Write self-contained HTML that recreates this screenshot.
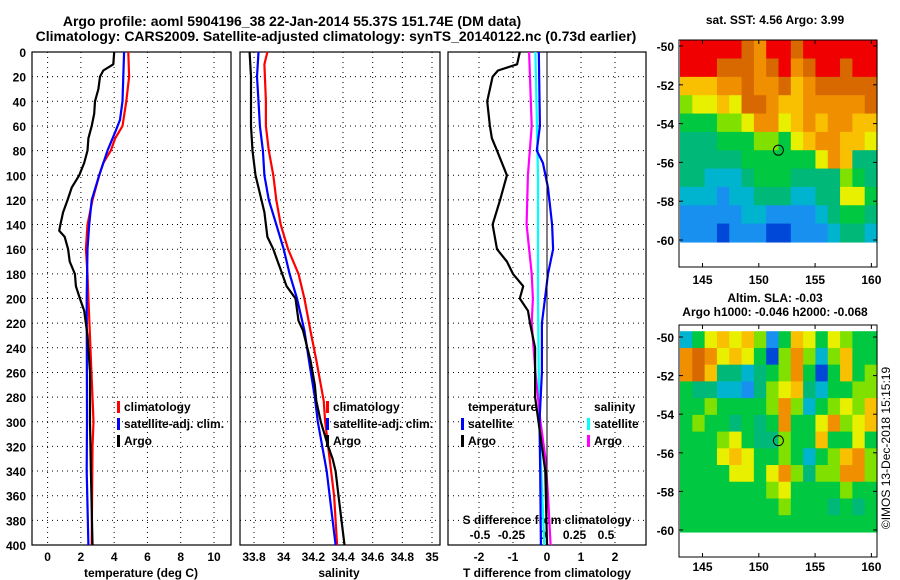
<!DOCTYPE html>
<html><head><meta charset="utf-8"><style>
html,body{margin:0;padding:0;background:#fff;}
svg{display:block;font-family:"Liberation Sans",Arial,sans-serif;font-weight:bold;}
</style></head><body>
<svg id="c" width="900" height="580" viewBox="0 0 900 580" xmlns="http://www.w3.org/2000/svg">
<text x="292" y="26" font-size="14" text-anchor="middle">Argo profile: aoml 5904196_38 22-Jan-2014 55.37S 151.74E (DM data)</text>
<text x="336" y="41" font-size="14" text-anchor="middle">Climatology: CARS2009. Satellite-adjusted climatology: synTS_20140122.nc (0.73d earlier)</text>
<text x="775" y="24" font-size="12" text-anchor="middle">sat. SST: 4.56 Argo: 3.99</text>
<text x="775" y="302" font-size="12" text-anchor="middle">Altim. SLA: -0.03</text>
<text x="775" y="316" font-size="12" text-anchor="middle">Argo h1000: -0.046 h2000: -0.068</text>
<text transform="translate(890,448) rotate(-90)" font-size="12" font-weight="normal" text-anchor="middle">©IMOS 13-Dec-2018 15:15:19</text>
<text x="141" y="577" font-size="12" text-anchor="middle">temperature (deg C)</text>
<text x="339" y="577" font-size="12" text-anchor="middle">salinity</text>
<text x="547" y="577" font-size="12" text-anchor="middle">T difference from climatology</text>
<text x="547" y="524" font-size="12" text-anchor="middle">S difference from climatology</text>
</svg>
<script>
// ---- profile data ----
const tempClimDepth=[0,20,40,60,70,80,90,100,120,140,160,180,200,300,320,400];
const tempClim=[4.85,4.9,4.73,4.5,4.06,3.8,3.35,3.1,2.7,2.4,2.3,2.4,2.45,2.76,2.7,2.65];
const tempSatDepth=[0,20,40,55,65,80,100,120,140,160,200,300,340,400];
const tempSat=[4.6,4.55,4.5,4.35,4.06,3.6,3.1,2.65,2.5,2.4,2.35,2.37,2.35,2.45];
const argoDepth=[0,10,15,20,30,40,50,60,70,80,90,100,110,120,130,140,145,150,160,170,180,190,200,210,230,260,300,340,400];
const argoTemp=[4.0,3.95,3.35,3.15,3.05,2.85,2.8,2.65,2.45,2.4,2.2,1.9,1.45,1.2,0.93,0.77,0.7,1.03,1.23,1.33,1.64,1.7,1.94,2.2,2.4,2.55,2.55,2.6,2.7];
const salDepth=[0,20,60,80,100,110,130,150,160,170,180,190,200,218,226,250,270,283,300,320,330,340,360,380,400];
const argoSal=[33.77,33.78,33.78,33.79,33.81,33.83,33.87,33.89,33.93,33.96,33.99,34.02,34.08,34.1,34.13,34.18,34.21,34.22,34.25,34.3,34.33,34.35,34.37,34.39,34.41];
const salClimDepth=[0,10,40,60,80,100,120,140,160,180,200,226,250,283,300,340,360,400];
const salClim=[33.89,33.87,33.88,33.88,33.9,33.93,33.95,33.98,34.03,34.1,34.14,34.18,34.22,34.27,34.28,34.32,34.34,34.36];
const salSatDepth=[0,20,40,60,80,100,120,140,160,180,200,226,250,280,300,340,400];
const salSat=[33.83,33.82,33.83,33.84,33.86,33.87,33.9,33.95,34.0,34.04,34.09,34.14,34.17,34.21,34.23,34.29,34.35];
const tdArgoDepth=[0,10,15,20,40,60,70,80,100,120,140,160,170,180,190,200,210,220,240,280,320,340,400];
const tdArgo=[-0.8,-0.88,-1.44,-1.6,-1.76,-1.68,-1.62,-1.47,-1.18,-1.38,-1.6,-1.47,-1.18,-1.0,-0.7,-0.8,-0.56,-0.5,-0.35,-0.35,-0.15,-0.05,0.0];
const tdSatDepth=[0,60,80,90,110,140,160,180,200,220,260,300,340,400];
const tdSat=[-0.24,-0.21,-0.3,-0.12,0.03,0.15,0.18,0.03,-0.06,-0.15,-0.15,-0.22,-0.2,-0.18];
const sdSatDepth=[0,100,200,300,400];
const sdSat=[-0.06,-0.04,-0.04,-0.03,0.01];
const sdArgoDepth=[0,60,100,140,180,200,220,260,300,330,360,400];
const sdArgo=[-0.11,-0.09,-0.12,-0.13,-0.09,-0.08,-0.09,-0.06,-0.02,0.02,0.04,0.06];
const depthTicks=[0,20,40,60,80,100,120,140,160,180,200,220,240,260,280,300,320,340,360,380,400];
const tempTicks=[0,2,4,6,8,10];
const salTicks=[33.8,34,34.2,34.4,34.6,34.8,35];
const salTickLabels=["33.8","34","34.2","34.4","34.6","34.8","35"];
const tdTicks=[-2,-1,0,1,2];
const sdTicks=[-0.5,-0.25,0,0.25,0.5];
const sdTickLabels=["-0.5","-0.25","0","0.25","0.5"];
// ---- map data (colour index 0 cold/low .. 10 warm/high) ----
const lonTicks=[145,150,155,160];
const latTicks=[-50,-52,-54,-56,-58,-60];
const sstGrid=[
[10,10,10,10,10,9,8,10,10,9,10,10,10,10,10,10],
[10,10,10,9,9,9,8,9,10,8,9,10,10,9,10,10],
[7,7,7,8,8,9,8,8,9,7,8,9,9,9,9,9],
[5,6,6,7,6,9,9,8,7,7,8,8,8,8,8,9],
[4,4,4,5,5,6,8,8,6,7,8,7,8,8,7,7],
[3,3,3,4,4,4,5,5,4,6,7,8,8,7,7,6],
[3,3,3,3,3,4,4,4,4,4,4,6,8,7,3,3],
[3,3,2,2,2,3,4,4,4,3,3,3,3,5,4,3],
[2,2,2,1,2,2,3,3,3,2,2,3,3,6,6,4],
[1,1,1,1,1,2,2,1,1,1,1,2,3,4,4,3],
[1,1,1,0,1,1,1,0,0,1,1,1,2,3,3,2]];
const slaGrid=[
[2,4,6,7,6,7,5,1,4,7,6,4,6,5,4,4],
[8,9,8,6,7,6,4,0,5,8,5,2,5,7,4,4],
[8,9,7,3,3,2,3,4,5,8,4,0,4,7,4,5],
[4,3,3,2,2,1,3,5,6,7,3,2,4,4,5,5],
[4,4,5,4,4,4,4,5,8,5,2,4,5,6,5,7],
[4,5,4,4,3,4,3,4,8,4,4,6,8,5,6,7],
[4,4,4,5,6,4,3,3,5,4,4,7,4,4,6,4],
[4,4,4,6,7,6,4,4,5,4,2,4,5,7,8,5],
[4,4,4,4,6,6,4,6,8,5,3,5,5,8,8,5],
[4,4,4,4,4,4,4,5,6,4,4,4,4,5,4,4],
[4,4,4,4,4,4,4,4,5,4,4,4,3,4,3,4],
[4,4,4,4,4,4,4,4,4,4,4,4,4,4,4,4]];
const palette=["#0048d8","#1890f0","#00b4d0","#00b878","#00c840","#80e000","#e8f000","#f8c000","#f09000","#d86800","#f00000"];
const argoLon=151.74, argoLat=-55.37;

const NS="http://www.w3.org/2000/svg";
const svg=document.getElementById('c');
function mk(tag,attrs,parent){const e=document.createElementNS(NS,tag);for(const k in attrs)e.setAttribute(k,attrs[k]);(parent||svg).appendChild(e);return e;}
const Y0=52,Y1=545;
function yD(d){return Y0+(Y1-Y0)*d/400;}
function lin(d0,d1,p0,p1){return v=>p0+(v-d0)*(p1-p0)/(d1-d0);}
const xT=lin(0,10,47.6,214);
const xS=lin(33.8,35,254,432);
const xTD=lin(-2,2,479,615);
const xSD=lin(-0.5,0.5,480,606);

function frame(x0,x1,name,xTicks,xf,labels,showY){
  const g=mk('g',{});
  
  
  depthTicks.forEach(d=>{
    if(d>0&&d<400){const l=mk('line',{x1:x0,x2:x1,y1:yD(d),y2:yD(d),stroke:'#000','stroke-width':1,'stroke-dasharray':'1,4'},g);
    }
    if(showY){const t=mk('text',{x:26,y:yD(d)+5,'font-size':12,'text-anchor':'end'},g);t.textContent=d;
    }
  });
  xTicks.forEach((v,i)=>{
    const x=xf(v);
    const l=mk('line',{x1:x,x2:x,y1:Y0,y2:Y1,stroke:'#000','stroke-width':1,'stroke-dasharray':'1,4'},g);
    
    if(labels){const t=mk('text',{x:x,y:561,'font-size':12,'text-anchor':'middle'},g);t.textContent=labels[i];
    }
  });
  const r=mk('rect',{x:x0,y:Y0,width:x1-x0,height:Y1-Y0,fill:'none',stroke:'#000','stroke-width':1.2},g);
  
}
function line(xs,ds,xf,color,name){
  const pts=xs.map((v,i)=>xf(v).toFixed(1)+','+yD(ds[i]).toFixed(1)).join(' ');
  const p=mk('polyline',{points:pts,fill:'none',stroke:color,'stroke-width':2.2,'stroke-linejoin':'round'});
  
  
}
function legend(x,y,color,text,name){
  const r=mk('rect',{x:x,y:y-10,width:3,height:12,fill:color});
  
  
  const t=mk('text',{x:x+7,y:y,'font-size':12});t.textContent=text;
  
  
}
frame(32,231,'temperature-panel',tempTicks,xT,tempTicks.map(String),true);
frame(240,440,'salinity-panel',salTicks,xS,salTickLabels,false);
frame(448,646,'difference-panel',tdTicks,xTD,tdTicks.map(String),false);
sdTicks.forEach((v,i)=>{
  const t=mk('text',{x:xSD(v),y:539,'font-size':12,'text-anchor':'middle'});t.textContent=sdTickLabels[i];
  
  
});
line(tempClim,tempClimDepth,xT,'#f00','temp-climatology-line');
line(tempSat,tempSatDepth,xT,'#00f','temp-satellite-line');
line(argoTemp,argoDepth,xT,'#000','temp-argo-line');
line(salClim,salClimDepth,xS,'#f00','sal-climatology-line');
line(salSat,salSatDepth,xS,'#00f','sal-satellite-line');
line(argoSal,salDepth,xS,'#000','sal-argo-line');
line(sdSat,sdSatDepth,xSD,'#00ffff','sdiff-satellite-line');
line(sdArgo,sdArgoDepth,xSD,'#ff00ff','sdiff-argo-line');
line(tdSat,tdSatDepth,xTD,'#00f','tdiff-satellite-line');
line(tdArgo,tdArgoDepth,xTD,'#000','tdiff-argo-line');
// zero line for diff panel
const zl=mk('line',{x1:xTD(0),x2:xTD(0),y1:Y0,y2:Y1,stroke:'#000','stroke-width':1});


legend(117,411,'#f00','climatology','legend-climatology');
legend(117,428,'#00f','satellite-adj. clim.','legend-satellite-adj');
legend(117,445,'#000','Argo','legend-argo');
legend(326,411,'#f00','climatology','legend-sal-climatology');
legend(326,428,'#00f','satellite-adj. clim.','legend-sal-satellite-adj');
legend(326,445,'#000','Argo','legend-sal-argo');
{const t=mk('text',{x:468,y:411,'font-size':12});t.textContent='temperature';
}
{const t=mk('text',{x:594,y:411,'font-size':12});t.textContent='salinity';
}
legend(461,428,'#00f','satellite','legend-t-satellite');
legend(461,445,'#000','Argo','legend-t-argo');
legend(587,428,'#00ffff','satellite','legend-s-satellite');
legend(587,445,'#ff00ff','Argo','legend-s-argo');

// ---- maps ----
const mx0=679,mx1=877;
const lonX=lin(143,160.5,mx0+1,mx1);
function map(grid,top,bottom,latY,name,labY){
  const g=mk('g',{});
  
  
  const rows=grid.length,cols=grid[0].length;
  const latTop=-49.7, latBot=-60.1;
  const cw=(lonX(160.5)-lonX(143))/cols, ch=(latY(latBot)-latY(latTop))/rows;
  grid.forEach((row,r)=>row.forEach((v,c)=>{
    const cell=mk('rect',{x:(lonX(143)+c*cw).toFixed(2),y:(latY(latTop)+r*ch).toFixed(2),width:(cw+0.6).toFixed(2),height:(ch+0.6).toFixed(2),fill:palette[v]},g);
    
    
  }));
  const rf=mk('rect',{x:mx0,y:top,width:mx1-mx0,height:bottom-top,fill:'none',stroke:'#000','stroke-width':1},g);
  
  latTicks.forEach(v=>{
    const y=latY(v);
    mk('line',{x1:mx0,x2:mx0+4,y1:y,y2:y,stroke:'#000'},g);
    mk('line',{x1:mx1-4,x2:mx1,y1:y,y2:y,stroke:'#000'},g);
    const t=mk('text',{x:674,y:y+5,'font-size':12,'text-anchor':'end'},g);t.textContent=v;
    
  });
  lonTicks.forEach(v=>{
    const x=lonX(v);
    mk('line',{x1:x,x2:x,y1:bottom-4,y2:bottom,stroke:'#000'},g);
    mk('line',{x1:x,x2:x,y1:top,y2:top+4,stroke:'#000'},g);
    const t=mk('text',{x:x,y:labY,'font-size':12,'text-anchor':'middle'},g);t.textContent=v;
    
  });
  const m=mk('circle',{cx:lonX(argoLon),cy:latY(argoLat),r:5,fill:'none',stroke:'#000','stroke-width':1},g);
  
}
map(sstGrid,40,267,lin(-50,-60,46,240),'sst-map',284);
map(slaGrid,325,557,lin(-50,-60,337,530),'sla-map',571);
</script>
</body></html>
